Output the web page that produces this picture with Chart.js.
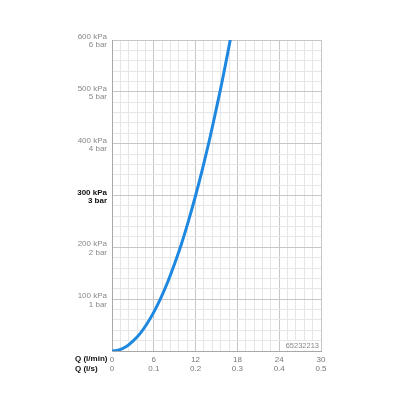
<!DOCTYPE html>
<html>
<head>
<meta charset="utf-8">
<script src="https://cdn.jsdelivr.net/npm/chart.js@4"></script>
<style>
html,body{margin:0;padding:0;background:#fff;}
#wrap{width:400px;height:400px;position:relative;}
</style>
</head>
<body>
<div id="wrap"><canvas id="c" width="400" height="400"></canvas></div>
<script>
// Data
const flowLmin = [0,1,2,3,4,5,6,7,8,9,10,11,12,13,14,15,16,17];
const pressureKpa = [0,2,8,19,33,52,75,102,133,169,208,252,300,352,408,469,533,602];
const xLabelsLmin = ['0','6','12','18','24','30'];
const xLabelsLs = ['0','0.1','0.2','0.3','0.4','0.5'];
const yLabelsKpa = ['100 kPa','200 kPa','300 kPa','400 kPa','500 kPa','600 kPa'];
const yLabelsBar = ['1 bar','2 bar','3 bar','4 bar','5 bar','6 bar'];
const axisNames = ['Q (l/min)','Q (l/s)'];
const codeLabel = '65232213';

const FONT = '"Liberation Sans", Arial, Helvetica, sans-serif';
const isMult = (v, m) => Math.abs(v / m - Math.round(v / m)) < 1e-6;

const points = flowLmin.map((q, i) => ({x: q, y: pressureKpa[i]}));

const extras = {
  id: 'extras',
  afterDraw(chart) {
    const ctx = chart.ctx;
    const xs = chart.scales.x, ys = chart.scales.y;
    ctx.save();
    ctx.font = 'bold 8px ' + FONT;
    ctx.fillStyle = '#111';
    ctx.textAlign = 'left';
    ctx.textBaseline = 'middle';
    ctx.fillText(axisNames[0], 75, xs.top + 8);
    ctx.fillText(axisNames[1], 75, xs.top + 17.5);
    // code label
    ctx.font = '7.5px ' + FONT;
    const w = ctx.measureText(codeLabel).width;
    const rx = xs.right - 2, ry = ys.bottom - 5;
    ctx.fillStyle = '#fff';
    ctx.fillRect(rx - w - 2, ry - 5, w + 3, 9);
    ctx.fillStyle = '#888';
    ctx.textAlign = 'right';
    ctx.fillText(codeLabel, rx, ry);
    ctx.restore();
  }
};

new Chart(document.getElementById('c'), {
  type: 'line',
  data: {
    datasets: [{
      data: points,
      borderColor: '#1e88e0',
      borderWidth: 3,
      pointRadius: 0,
      tension: 0.4,
      fill: false
    }]
  },
  options: {
    responsive: false,
    animation: false,
    layout: {padding: {left: 0, right: 79, top: 40, bottom: 0}},
    plugins: {legend: {display: false}, tooltip: {enabled: false}},
    scales: {
      x: {
        type: 'linear',
        min: 0, max: 30,
        afterFit(s) { s.height = 49; s.paddingLeft = 0; s.paddingRight = 0; },
        ticks: {
          stepSize: 1.2,
          autoSkip: false,
          maxRotation: 0,
          padding: 4,
          color: '#777',
          font: {family: FONT, size: 8, lineHeight: 1.15},
          callback(v) {
            if (!isMult(v, 6)) return '';
            const i = Math.round(v / 6);
            return [xLabelsLmin[i], xLabelsLs[i]];
          }
        },
        grid: {
          drawTicks: false,
          color: c => (c.tick && isMult(c.tick.value, 6)) ? '#c6c6c6' : '#e6e6e6',
          lineWidth: 1
        },
        border: {color: '#a8a8a8', width: 1}
      },
      y: {
        type: 'linear',
        min: 0, max: 600,
        afterFit(s) { s.width = 112; s.paddingTop = 0; s.paddingBottom = 0; },
        ticks: {
          stepSize: 20,
          autoSkip: false,
          padding: 5,
          labelOffset: 1,
          color: c => (c.tick && c.tick.value === 300) ? '#111' : '#888',
          font: c => ({family: FONT, size: 8, lineHeight: 1.05, weight: (c.tick && c.tick.value === 300) ? 'bold' : 'normal'}),
          callback(v) {
            if (v === 0 || !isMult(v, 100)) return '';
            const i = Math.round(v / 100) - 1;
            return [yLabelsKpa[i], yLabelsBar[i]];
          }
        },
        grid: {
          drawTicks: false,
          color: c => (c.tick && isMult(c.tick.value, 100)) ? '#c6c6c6' : '#e6e6e6',
          lineWidth: 1
        },
        border: {color: '#a8a8a8', width: 1}
      }
    }
  },
  plugins: [extras]
});
</script>
</body>
</html>
